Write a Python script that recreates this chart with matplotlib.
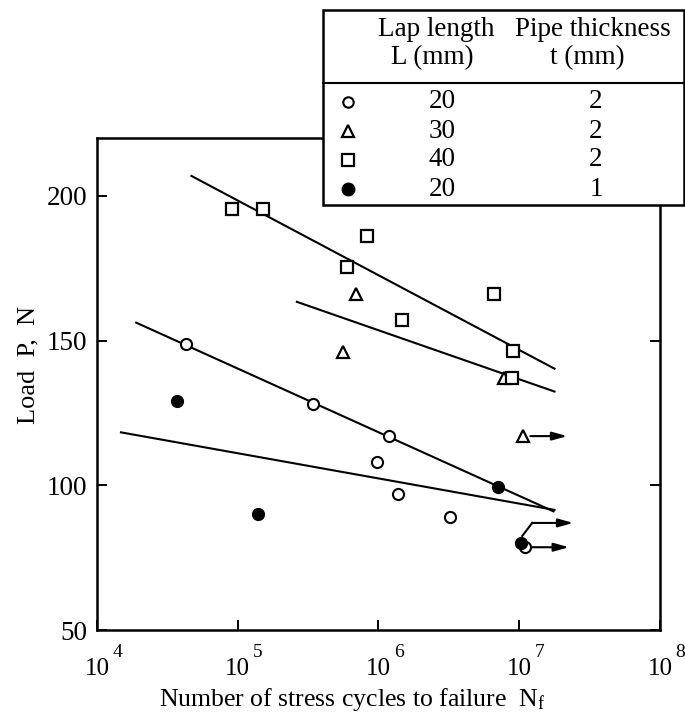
import numpy as np
import matplotlib
matplotlib.use('Agg')
import matplotlib.pyplot as plt
from matplotlib.patches import Rectangle
from matplotlib.lines import Line2D

plt.rcParams['font.family'] = ['Liberation Serif', 'DejaVu Serif']
plt.rcParams['mathtext.fontset'] = 'custom'
plt.rcParams['mathtext.rm'] = 'Liberation Serif'
plt.rcParams['mathtext.it'] = 'Liberation Serif:italic'

# data
circ_N = [4.3e4, 3.4e5, 1.18e6, 9.8e5, 1.37e6, 3.2e6]
circ_P = [149, 128, 117, 108, 97, 89]
circ_run_N = [1.1e7]
circ_run_P = [78.6]

tri_N = [6.9e5, 5.6e5, 7.8e6]
tri_P = [166, 146, 137]
tri_run_N = [1.07e7]
tri_run_P = [117]

sq_N = [9.1e4, 1.5e5, 8.3e5, 6.0e5, 1.48e6, 6.6e6, 9.1e6, 8.9e6]
sq_P = [195.5, 195.5, 186, 175.5, 157, 166, 146.5, 137]

fill_N = [3.7e4, 1.4e5, 7.1e6]
fill_P = [129, 90, 99.5]
fill_run_N = [1.03e7]
fill_run_P = [80]

# fitted S-N lines: (N start, N end), (P start, P end)
fit_sq = ([4.69e4, 1.78e7], [206.9, 140.3])
fit_tri = ([2.63e5, 1.78e7], [163.4, 132.4])
fit_circ = ([1.9e4, 1.75e7], [156.2, 91.0])
fit_fill = ([1.48e4, 1.78e7], [118.3, 91.5])

x_exps = [4, 5, 6, 7, 8]
y_ticks = [50, 100, 150, 200]

legend_L = ['20', '30', '40', '20']
legend_t = ['2', '2', '2', '1']

fig = plt.figure(figsize=(6.85, 7.13), dpi=100)
ax = fig.add_axes([0.1416, 0.1164, 0.8219, 0.690])
ax.set_xscale('log')
ax.set_xlim(1e4, 1e8)
ax.set_ylim(50, 220)

lw_fit = 1.5
for xs, ys in [fit_sq, fit_tri, fit_circ, fit_fill]:
    ax.plot(xs, ys, color='black', lw=lw_fit, zorder=2)

mk = dict(color='black', linestyle='none', zorder=3)
ax.plot(circ_N + circ_run_N, circ_P + circ_run_P, marker='o', ms=8,
        mfc='white', mec='black', mew=1.5, **mk)
ax.plot(tri_N + tri_run_N, tri_P + tri_run_P, marker='^', ms=8.5,
        mfc='white', mec='black', mew=1.6, **mk)
ax.plot(sq_N, sq_P, marker='s', ms=8.5, mfc='white', mec='black', mew=1.6, **mk)
ax.plot(fill_N + fill_run_N, fill_P + fill_run_P, marker='o', ms=8.5,
        mfc='black', mec='black', **mk)

# run-out arrows
arr = dict(arrowstyle='-|>,head_length=0.9,head_width=0.25', color='black', lw=1.5,
           shrinkA=0, shrinkB=0)
for n, p in zip(tri_run_N + circ_run_N, tri_run_P + circ_run_P):
    ax.annotate('', xy=(n * 2.05, p), xytext=(n * 1.12, p), arrowprops=arr)
for n, p in zip(fill_run_N, fill_run_P):
    ax.plot([n * 1.02, n * 1.2], [p + 2.5, p + 7], color='black', lw=1.5)
    ax.annotate('', xy=(n * 2.35, p + 7), xytext=(n * 1.2, p + 7), arrowprops=arr)

# x ticks: "10" under the tick, exponent raised to the right
ax.set_xticks([10.0 ** k for k in x_exps])
ax.set_xticklabels(['10'] * len(x_exps), fontsize=18)
for k in x_exps:
    ax.annotate(str(k), xy=(10.0 ** k, 0), xycoords=('data', 'axes fraction'),
                xytext=(14.5, -16), textcoords='offset points', ha='center', va='center',
                fontsize=14, annotation_clip=False)
ax.minorticks_off()
ax.set_yticks(y_ticks)
ax.tick_params(axis='y', labelsize=19.5, pad=7)
ax.tick_params(direction='in', length=7, width=1.4, right=True, top=False)
ax.tick_params(axis='x', pad=20)
for s in ax.spines.values():
    s.set_linewidth(1.8)

ax.set_xlabel(r'Number of stress cycles to failure  N$_\mathregular{f}$', fontsize=18.5)
ax.xaxis.set_label_coords(0.453, -0.114)
ax.set_ylabel('Load  P,  N', fontsize=19)
ax.yaxis.set_label_coords(-0.102, 0.539)

# legend table
x0, x1 = 0.4715, 0.999
y_top, y_bot, y_div = 0.986, 0.7125, 0.8836
fig.patches.append(Rectangle((x0, y_bot), x1 - x0, y_top - y_bot, transform=fig.transFigure,
                             facecolor='white', edgecolor='black', lw=1.8, zorder=10))
fig.lines.append(Line2D([x0, x1], [y_div, y_div], transform=fig.transFigure,
                        color='black', lw=1.5, zorder=11))
fs_leg = 19.5
fig.text(0.6365, 0.958, 'Lap length', ha='center', va='center', fontsize=fs_leg, zorder=12)
fig.text(0.6307, 0.919, 'L (mm)', ha='center', va='center', fontsize=fs_leg, zorder=12)
fig.text(0.8657, 0.958, 'Pipe thickness', ha='center', va='center', fontsize=fs_leg, zorder=12)
fig.text(0.857, 0.919, 't (mm)', ha='center', va='center', fontsize=fs_leg, zorder=12)

leg_marks = [dict(marker='o', ms=7.5, mfc='white', mew=1.5),
             dict(marker='^', ms=8, mfc='white', mew=1.6),
             dict(marker='s', ms=8, mfc='white', mew=1.6),
             dict(marker='o', ms=9, mfc='black', mew=1)]
row_y = [1 - 102 / 713, 1 - 131 / 713, 1 - 160 / 713, 1 - 189 / 713]
for y, L, t, m in zip(row_y, legend_L, legend_t, leg_marks):
    fig.lines.append(Line2D([0.508], [y], transform=fig.transFigure, color='black',
                            mec='black', linestyle='none', zorder=12, **m))
    fig.text(0.645, y, L, ha='center', va='center', fontsize=fs_leg, zorder=12)
    fig.text(0.870, y, t, ha='center', va='center', fontsize=fs_leg, zorder=12)

fig.savefig('out.png', dpi=100)
